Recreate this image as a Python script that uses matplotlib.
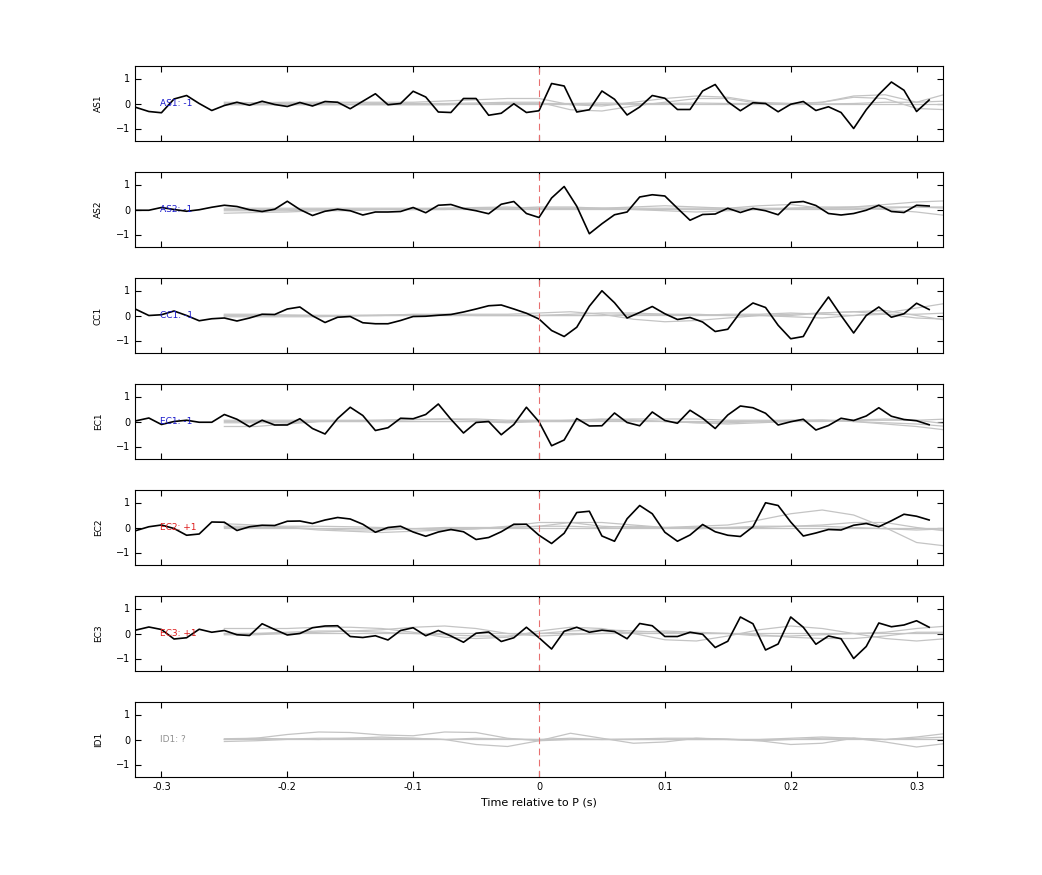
import numpy as np
import matplotlib.pyplot as plt

# black traces, sampled every 10 ms from -0.32 s to 0.31 s
t_black = np.round(np.arange(-0.32, 0.315, 0.01), 3)
AS1 = [-0.16, -0.32, -0.37, 0.18, 0.32, 0.0, -0.28, -0.08, 0.05, -0.07, 0.09, -0.04, -0.12, 0.04, -0.1, 0.08,
       0.05, -0.21, 0.09, 0.39, -0.05, 0.0, 0.49, 0.26, -0.34, -0.36, 0.2, 0.2, -0.47, -0.39, -0.01, -0.36,
       -0.29, 0.8, 0.7, -0.34, -0.25, 0.5, 0.17, -0.46, -0.14, 0.32, 0.21, -0.24, -0.24, 0.5, 0.76, 0.07,
       -0.29, 0.03, 0.0, -0.33, -0.03, 0.08, -0.28, -0.13, -0.36, -1.0, -0.25, 0.36, 0.86, 0.53, -0.32, 0.14]
AS2 = [-0.03, -0.03, 0.08, 0.0, -0.07, -0.01, 0.09, 0.17, 0.12, -0.01, -0.08, 0.01, 0.33, 0.0, -0.24, -0.07,
       0.01, -0.05, -0.22, -0.1, -0.1, -0.08, 0.08, -0.13, 0.17, 0.2, 0.04, -0.05, -0.17, 0.21, 0.32, -0.16,
       -0.32, 0.46, 0.92, 0.13, -0.97, -0.57, -0.21, -0.1, 0.5, 0.59, 0.54, 0.05, -0.43, -0.2, -0.18, 0.05,
       -0.12, 0.04, -0.05, -0.21, 0.28, 0.32, 0.16, -0.16, -0.22, -0.16, -0.03, 0.17, -0.08, -0.12, 0.17, 0.14]
CC1 = [0.24, 0.0, 0.03, 0.18, 0.0, -0.21, -0.13, -0.1, -0.22, -0.1, 0.05, 0.04, 0.26, 0.34, -0.01, -0.28,
       -0.07, -0.04, -0.29, -0.33, -0.33, -0.2, -0.04, -0.03, 0.01, 0.04, 0.14, 0.26, 0.39, 0.42, 0.26, 0.09,
       -0.14, -0.6, -0.84, -0.47, 0.37, 0.99, 0.51, -0.1, 0.12, 0.36, 0.07, -0.16, -0.08, -0.26, -0.64, -0.55,
       0.13, 0.5, 0.32, -0.39, -0.93, -0.84, 0.05, 0.74, 0.0, -0.7, 0.0, 0.34, -0.07, 0.07, 0.49, 0.24]
EC1 = [0.03, 0.14, -0.12, 0.0, 0.05, -0.03, -0.03, 0.28, 0.09, -0.21, 0.05, -0.14, -0.14, 0.11, -0.28, -0.5,
       0.12, 0.57, 0.24, -0.36, -0.25, 0.13, 0.11, 0.28, 0.7, 0.09, -0.46, -0.04, 0.0, -0.53, -0.12, 0.57,
       -0.01, -0.97, -0.74, 0.12, -0.18, -0.17, 0.34, -0.04, -0.17, 0.38, 0.04, -0.07, 0.45, 0.13, -0.28, 0.26,
       0.62, 0.55, 0.33, -0.14, -0.01, 0.09, -0.34, -0.16, 0.13, 0.04, 0.22, 0.55, 0.21, 0.08, 0.03, -0.13]
EC2 = [-0.12, 0.03, 0.1, -0.04, -0.31, -0.26, 0.22, 0.21, -0.12, 0.03, 0.09, 0.08, 0.25, 0.26, 0.16, 0.3,
       0.4, 0.34, 0.13, -0.19, 0.0, 0.05, -0.18, -0.35, -0.18, -0.08, -0.17, -0.48, -0.4, -0.17, 0.13, 0.13,
       -0.31, -0.64, -0.23, 0.6, 0.65, -0.34, -0.55, 0.35, 0.88, 0.55, -0.19, -0.55, -0.3, 0.12, -0.17, -0.31,
       -0.36, 0.03, 0.99, 0.88, 0.22, -0.34, -0.22, -0.08, -0.1, 0.09, 0.16, 0.03, 0.27, 0.53, 0.45, 0.3]
EC3 = [0.14, 0.26, 0.16, -0.22, -0.17, 0.17, 0.05, 0.12, -0.05, -0.08, 0.39, 0.16, -0.06, 0.0, 0.23, 0.3,
       0.31, -0.12, -0.16, -0.09, -0.26, 0.12, 0.23, -0.09, 0.12, -0.1, -0.35, 0.01, 0.06, -0.32, -0.17, 0.25,
       -0.17, -0.62, 0.09, 0.25, 0.05, 0.13, 0.08, -0.21, 0.4, 0.31, -0.12, -0.12, 0.05, -0.03, -0.56, -0.31,
       0.66, 0.39, -0.66, -0.42, 0.66, 0.25, -0.43, -0.1, -0.21, -1.0, -0.52, 0.42, 0.27, 0.34, 0.51, 0.25]

# grey reference traces, sampled every 25 ms from -0.25 s to 0.325 s
t_grey = np.round(np.arange(-0.25, 0.33, 0.025), 3)
grey_AS1 = [
    [0.0, 0.02, 0.0, 0.0, 0.02, 0.0, 0.0, 0.0, 0.02, 0.05, 0.05, -0.25, -0.3, -0.1, 0.05, 0.2, 0.2, 0.0, -0.05, 0.05, 0.25, 0.2, -0.2, -0.25],
    [0.05, 0.03, 0.05, 0.05, 0.05, 0.05, 0.05, 0.1, 0.15, 0.2, 0.2, -0.05, -0.1, 0.05, 0.2, 0.3, 0.25, 0.05, 0.0, 0.05, 0.3, 0.35, 0.05, 0.4],
    [-0.05, -0.05, -0.05, -0.05, -0.05, -0.05, -0.05, -0.05, -0.02, 0.0, 0.0, 0.0, 0.02, 0.0, 0.0, 0.02, 0.0, 0.0, 0.0, -0.02, 0.0, 0.05, 0.05, 0.1],
    [0.0, 0.0, 0.0, 0.0, 0.0, 0.0, 0.0, 0.0, 0.0, 0.0, 0.0, 0.0, 0.0, 0.0, 0.0, 0.0, 0.0, 0.0, 0.0, 0.0, 0.0, 0.0, 0.0, 0.0],
]
grey_AS2 = [
    [-0.15, -0.12, -0.1, -0.05, -0.05, 0.0, 0.0, 0.05, 0.08, 0.1, 0.05, 0.05, 0.05, 0.1, 0.15, 0.1, 0.05, 0.15, 0.2, 0.05, 0.1, 0.2, 0.3, 0.35],
    [-0.05, -0.05, -0.05, 0.0, 0.0, 0.0, 0.0, 0.0, 0.05, 0.05, 0.1, 0.1, 0.05, 0.0, -0.05, -0.1, -0.05, 0.0, 0.05, 0.05, 0.05, 0.0, -0.1, -0.25],
    [0.0, 0.0, 0.0, 0.0, 0.0, 0.0, 0.0, 0.0, 0.0, 0.0, 0.0, 0.0, 0.0, 0.0, 0.0, 0.0, 0.0, 0.0, 0.0, 0.0, 0.0, 0.05, 0.1, 0.05],
    [0.05, 0.05, 0.05, 0.05, 0.05, 0.05, 0.05, 0.05, 0.05, 0.05, 0.05, 0.05, 0.05, 0.05, 0.05, 0.05, 0.05, 0.05, 0.05, 0.1, 0.1, 0.1, 0.1, 0.1],
]
grey_CC1 = [
    [0.0, 0.0, 0.0, 0.0, 0.0, 0.02, 0.02, 0.05, 0.05, 0.05, 0.1, 0.15, 0.05, -0.15, -0.25, -0.2, -0.1, 0.0, 0.05, 0.1, 0.15, 0.2, 0.0, -0.2],
    [0.05, 0.05, 0.02, 0.0, 0.0, 0.0, 0.05, 0.05, 0.0, 0.0, 0.0, 0.05, 0.1, 0.1, 0.05, 0.0, 0.05, 0.05, 0.1, 0.05, 0.0, 0.1, 0.3, 0.5],
    [0.0, 0.0, 0.0, 0.0, 0.0, 0.0, 0.0, 0.0, 0.0, 0.0, 0.0, 0.0, 0.0, 0.0, 0.0, 0.0, 0.0, 0.0, -0.05, -0.1, 0.0, 0.05, -0.1, -0.15],
    [-0.05, -0.05, -0.05, -0.05, -0.02, 0.0, 0.0, 0.0, 0.0, 0.0, 0.0, 0.0, 0.0, 0.05, 0.05, 0.05, 0.0, 0.0, 0.0, 0.1, 0.15, 0.05, 0.05, 0.1],
]
grey_EC1 = [
    [-0.2, -0.2, -0.1, 0.0, 0.02, 0.05, 0.08, 0.1, 0.05, 0.0, 0.0, 0.05, 0.1, 0.05, 0.0, -0.05, -0.05, 0.0, 0.05, 0.05, 0.05, 0.1, 0.05, -0.1],
    [-0.05, -0.05, -0.05, 0.0, 0.0, 0.0, 0.0, 0.0, 0.0, -0.05, 0.0, 0.0, 0.05, 0.05, 0.0, -0.05, -0.1, -0.05, 0.0, 0.05, 0.0, -0.1, -0.2, -0.35],
    [0.0, 0.0, 0.0, 0.0, 0.0, 0.0, 0.0, 0.0, 0.0, 0.0, 0.0, 0.0, 0.0, 0.0, 0.0, 0.0, 0.0, 0.0, 0.0, 0.0, 0.05, 0.05, 0.05, 0.1],
    [0.05, 0.05, 0.05, 0.05, 0.05, 0.05, 0.08, 0.1, 0.1, 0.05, 0.05, 0.05, 0.08, 0.1, 0.1, 0.1, 0.05, 0.05, 0.05, 0.05, 0.0, -0.05, -0.1, -0.2],
]
grey_EC2 = [
    [0.15, 0.1, 0.0, -0.1, -0.15, -0.2, -0.15, -0.1, -0.05, 0.05, 0.2, 0.2, 0.05, 0.0, 0.0, 0.05, 0.1, 0.3, 0.55, 0.7, 0.5, 0.0, -0.6, -0.75],
    [0.0, 0.0, 0.0, -0.05, -0.1, -0.1, -0.05, 0.0, 0.0, 0.0, 0.05, 0.2, 0.2, 0.1, 0.0, 0.0, 0.0, 0.0, 0.05, 0.1, 0.2, 0.2, 0.0, -0.15],
    [0.0, 0.0, 0.0, 0.0, 0.0, 0.0, 0.0, 0.0, 0.0, 0.0, 0.0, 0.0, 0.0, 0.0, 0.0, 0.0, 0.0, 0.0, 0.0, 0.0, 0.0, 0.0, 0.0, 0.0],
    [0.05, 0.05, 0.05, 0.05, 0.03, 0.0, -0.05, -0.1, -0.05, 0.0, 0.05, 0.05, 0.0, 0.05, 0.0, -0.05, 0.0, 0.05, 0.05, 0.05, 0.0, -0.05, -0.1, -0.05],
]
grey_EC3 = [
    [0.2, 0.2, 0.2, 0.25, 0.25, 0.2, 0.05, -0.15, -0.2, -0.15, 0.1, 0.25, 0.2, 0.0, -0.25, -0.3, -0.1, 0.15, 0.3, 0.2, 0.0, -0.2, -0.3, -0.2],
    [0.0, 0.0, 0.0, 0.05, 0.1, 0.15, 0.25, 0.3, 0.2, 0.0, -0.1, -0.05, 0.0, 0.05, 0.1, 0.05, 0.0, -0.1, -0.1, -0.05, 0.0, 0.05, 0.2, 0.3],
    [-0.05, -0.05, 0.0, 0.0, 0.0, 0.0, 0.0, 0.0, 0.0, 0.0, 0.0, 0.0, 0.0, 0.0, 0.0, 0.0, 0.0, 0.0, 0.0, 0.0, 0.0, 0.0, 0.0, 0.0],
    [0.0, 0.0, 0.05, 0.1, 0.1, 0.05, 0.0, -0.05, -0.1, -0.1, 0.0, 0.1, 0.15, 0.1, 0.05, 0.0, 0.0, -0.05, -0.15, -0.2, -0.2, -0.1, 0.05, 0.05],
]
grey_ID1 = [
    [0.0, 0.05, 0.2, 0.3, 0.28, 0.18, 0.15, 0.3, 0.28, 0.05, -0.05, 0.0, 0.0, 0.02, 0.05, 0.05, 0.0, -0.05, 0.0, 0.05, 0.05, 0.0, 0.1, 0.25],
    [0.0, 0.0, 0.02, 0.05, 0.05, 0.05, 0.05, 0.0, -0.2, -0.28, -0.05, 0.25, 0.05, -0.15, -0.1, 0.05, 0.02, -0.05, -0.2, -0.15, 0.05, -0.1, -0.3, -0.15],
    [-0.08, -0.05, 0.0, 0.0, 0.0, 0.0, 0.0, 0.0, 0.0, 0.0, 0.0, 0.0, 0.0, 0.0, 0.0, 0.0, 0.0, 0.0, 0.0, 0.0, 0.0, 0.0, 0.0, 0.0],
    [0.03, 0.05, 0.02, 0.0, 0.05, 0.1, 0.05, 0.0, 0.05, 0.02, 0.0, 0.05, 0.0, 0.0, 0.0, 0.0, 0.0, 0.0, 0.05, 0.1, 0.05, 0.0, 0.05, 0.1],
]

stations = ['AS1', 'AS2', 'CC1', 'EC1', 'EC2', 'EC3', 'ID1']
polarity = ['-1', '-1', '-1', '-1', '+1', '+1', '?']
black = [AS1, AS2, CC1, EC1, EC2, EC3, None]
greys = [grey_AS1, grey_AS2, grey_CC1, grey_EC1, grey_EC2, grey_EC3, grey_ID1]
pol_colors = {'-1': '#1a1acc', '+1': '#dd1a1a', '?': '#909090'}

fig = plt.figure(figsize=(10.42, 8.75), dpi=100)
W, H = 1042, 875
for i, st in enumerate(stations):
    top = 66 + 106 * i
    ax = fig.add_axes([135 / W, 1 - (top + 75) / H, 808 / W, 75 / H])
    for g in greys[i]:
        ax.plot(t_grey, g, color='#c4c4c4', lw=0.9)
    if black[i] is not None:
        ax.plot(t_black, black[i], color='black', lw=1.2)
    ax.axvline(0, color='#e87070', lw=0.8, ls=(0, (6, 4)))
    ax.text(-0.301, 0, st + ': ' + polarity[i], color=pol_colors[polarity[i]], fontsize=6.5, va='center', ha='left')
    ax.set_xlim(-0.321, 0.321)
    ax.set_ylim(-1.5, 1.5)
    ax.set_yticks([-1, 0, 1])
    ax.set_xticks([-0.3, -0.2, -0.1, 0, 0.1, 0.2, 0.3])
    ax.tick_params(direction='in', top=True, right=True, labelsize=7, length=4)
    ax.set_ylabel(st, fontsize=6.5)
    ax.yaxis.set_label_coords(-0.04, 0.5)
    if i < len(stations) - 1:
        ax.set_xticklabels([])
    else:
        ax.set_xticklabels(['-0.3', '-0.2', '-0.1', '0', '0.1', '0.2', '0.3'])
        ax.set_xlabel('Time relative to P (s)', fontsize=8)

fig.savefig('out.png', dpi=100)
